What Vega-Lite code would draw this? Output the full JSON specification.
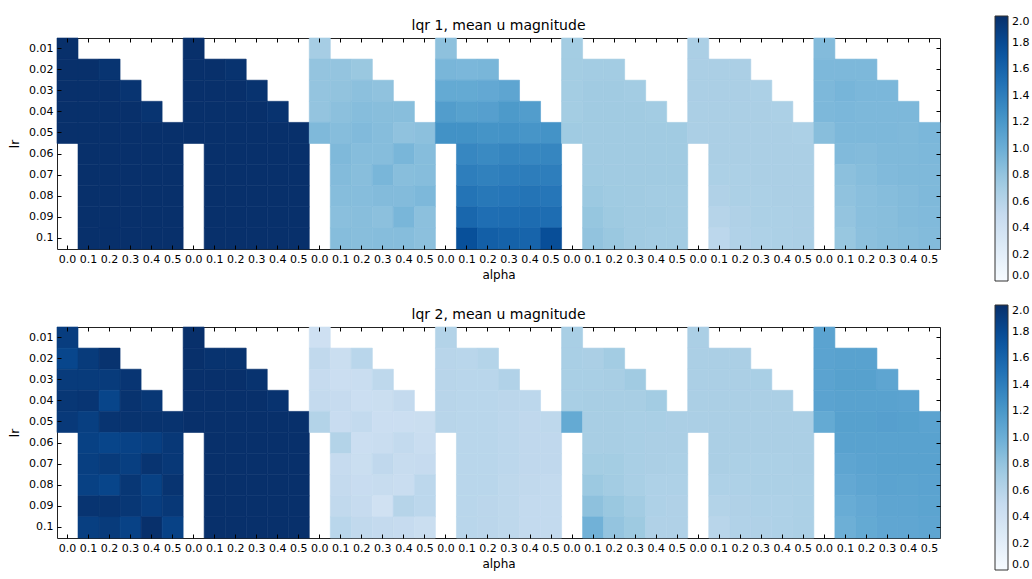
{
"$schema": "https://vega.github.io/schema/vega-lite/v6.json",
"padding": {"left": 8, "top": 15, "right": 5, "bottom": 0},
"background": "white",
"config": {
  "font": "DejaVu Sans",
  "view": {"stroke": "#222", "strokeWidth": 1},
  "axis": {"labelFont": "DejaVu Sans", "labelFontSize": 11, "labelColor": "#000", "titleFont": "DejaVu Sans", "titleFontSize": 12, "titleFontWeight": "normal", "titleColor": "#000", "domain": false, "grid": false, "tickColor": "#000", "tickSize": -4, "labelPadding": 8, "labelOverlap": false},
  "title": {"font": "DejaVu Sans", "fontSize": 14, "fontWeight": "normal", "color": "#000", "frame": "group", "anchor": "middle", "offset": -17},
  "legend": {"labelFont": "DejaVu Sans", "labelFontSize": 11, "labelColor": "#000"}
},
"data": {"values": [
{"p":1,"c":0,"lr":"0.01","v":2},{"p":1,"c":0,"lr":"0.02","v":2},{"p":1,"c":0,"lr":"0.03","v":2},{"p":1,"c":0,"lr":"0.04","v":2},{"p":1,"c":0,"lr":"0.05","v":2},
{"p":1,"c":1,"lr":"0.02","v":2},{"p":1,"c":1,"lr":"0.03","v":2},{"p":1,"c":1,"lr":"0.04","v":2},{"p":1,"c":1,"lr":"0.05","v":2},{"p":1,"c":1,"lr":"0.06","v":2},{"p":1,"c":1,"lr":"0.07","v":2},{"p":1,"c":1,"lr":"0.08","v":2},{"p":1,"c":1,"lr":"0.09","v":2},{"p":1,"c":1,"lr":"0.1","v":2},
{"p":1,"c":2,"lr":"0.02","v":1.97},{"p":1,"c":2,"lr":"0.03","v":2},{"p":1,"c":2,"lr":"0.04","v":2},{"p":1,"c":2,"lr":"0.05","v":2},{"p":1,"c":2,"lr":"0.06","v":2},{"p":1,"c":2,"lr":"0.07","v":2},{"p":1,"c":2,"lr":"0.08","v":2},{"p":1,"c":2,"lr":"0.09","v":2},{"p":1,"c":2,"lr":"0.1","v":2},
{"p":1,"c":3,"lr":"0.03","v":1.97},{"p":1,"c":3,"lr":"0.04","v":2},{"p":1,"c":3,"lr":"0.05","v":2},{"p":1,"c":3,"lr":"0.06","v":2},{"p":1,"c":3,"lr":"0.07","v":2},{"p":1,"c":3,"lr":"0.08","v":2},{"p":1,"c":3,"lr":"0.09","v":2},{"p":1,"c":3,"lr":"0.1","v":2},
{"p":1,"c":4,"lr":"0.04","v":1.97},{"p":1,"c":4,"lr":"0.05","v":2},{"p":1,"c":4,"lr":"0.06","v":2},{"p":1,"c":4,"lr":"0.07","v":2},{"p":1,"c":4,"lr":"0.08","v":2},{"p":1,"c":4,"lr":"0.09","v":2},{"p":1,"c":4,"lr":"0.1","v":2},
{"p":1,"c":5,"lr":"0.05","v":2},{"p":1,"c":5,"lr":"0.06","v":2},{"p":1,"c":5,"lr":"0.07","v":2},{"p":1,"c":5,"lr":"0.08","v":2},{"p":1,"c":5,"lr":"0.09","v":2},{"p":1,"c":5,"lr":"0.1","v":2},
{"p":1,"c":6,"lr":"0.01","v":2},{"p":1,"c":6,"lr":"0.02","v":2},{"p":1,"c":6,"lr":"0.03","v":2},{"p":1,"c":6,"lr":"0.04","v":2},{"p":1,"c":6,"lr":"0.05","v":2},
{"p":1,"c":7,"lr":"0.02","v":2},{"p":1,"c":7,"lr":"0.03","v":2},{"p":1,"c":7,"lr":"0.04","v":2},{"p":1,"c":7,"lr":"0.05","v":2},{"p":1,"c":7,"lr":"0.06","v":2},{"p":1,"c":7,"lr":"0.07","v":2},{"p":1,"c":7,"lr":"0.08","v":2},{"p":1,"c":7,"lr":"0.09","v":2},{"p":1,"c":7,"lr":"0.1","v":2},
{"p":1,"c":8,"lr":"0.02","v":1.98},{"p":1,"c":8,"lr":"0.03","v":2},{"p":1,"c":8,"lr":"0.04","v":2},{"p":1,"c":8,"lr":"0.05","v":2},{"p":1,"c":8,"lr":"0.06","v":2},{"p":1,"c":8,"lr":"0.07","v":2},{"p":1,"c":8,"lr":"0.08","v":2},{"p":1,"c":8,"lr":"0.09","v":2},{"p":1,"c":8,"lr":"0.1","v":2},
{"p":1,"c":9,"lr":"0.03","v":1.98},{"p":1,"c":9,"lr":"0.04","v":2},{"p":1,"c":9,"lr":"0.05","v":2},{"p":1,"c":9,"lr":"0.06","v":2},{"p":1,"c":9,"lr":"0.07","v":2},{"p":1,"c":9,"lr":"0.08","v":2},{"p":1,"c":9,"lr":"0.09","v":2},{"p":1,"c":9,"lr":"0.1","v":2},
{"p":1,"c":10,"lr":"0.04","v":1.98},{"p":1,"c":10,"lr":"0.05","v":2},{"p":1,"c":10,"lr":"0.06","v":2},{"p":1,"c":10,"lr":"0.07","v":2},{"p":1,"c":10,"lr":"0.08","v":2},{"p":1,"c":10,"lr":"0.09","v":2},{"p":1,"c":10,"lr":"0.1","v":2},
{"p":1,"c":11,"lr":"0.05","v":2},{"p":1,"c":11,"lr":"0.06","v":2},{"p":1,"c":11,"lr":"0.07","v":2},{"p":1,"c":11,"lr":"0.08","v":2},{"p":1,"c":11,"lr":"0.09","v":2},{"p":1,"c":11,"lr":"0.1","v":2},
{"p":1,"c":12,"lr":"0.01","v":0.70},{"p":1,"c":12,"lr":"0.02","v":0.80},{"p":1,"c":12,"lr":"0.03","v":0.80},{"p":1,"c":12,"lr":"0.04","v":0.80},{"p":1,"c":12,"lr":"0.05","v":0.90},
{"p":1,"c":13,"lr":"0.02","v":0.80},{"p":1,"c":13,"lr":"0.03","v":0.81},{"p":1,"c":13,"lr":"0.04","v":0.84},{"p":1,"c":13,"lr":"0.05","v":0.87},{"p":1,"c":13,"lr":"0.06","v":0.90},{"p":1,"c":13,"lr":"0.07","v":0.88},{"p":1,"c":13,"lr":"0.08","v":0.87},{"p":1,"c":13,"lr":"0.09","v":0.85},{"p":1,"c":13,"lr":"0.1","v":0.87},
{"p":1,"c":14,"lr":"0.02","v":0.77},{"p":1,"c":14,"lr":"0.03","v":0.84},{"p":1,"c":14,"lr":"0.04","v":0.87},{"p":1,"c":14,"lr":"0.05","v":0.89},{"p":1,"c":14,"lr":"0.06","v":0.87},{"p":1,"c":14,"lr":"0.07","v":0.86},{"p":1,"c":14,"lr":"0.08","v":0.87},{"p":1,"c":14,"lr":"0.09","v":0.86},{"p":1,"c":14,"lr":"0.1","v":0.86},
{"p":1,"c":15,"lr":"0.03","v":0.82},{"p":1,"c":15,"lr":"0.04","v":0.86},{"p":1,"c":15,"lr":"0.05","v":0.87},{"p":1,"c":15,"lr":"0.06","v":0.87},{"p":1,"c":15,"lr":"0.07","v":0.93},{"p":1,"c":15,"lr":"0.08","v":0.88},{"p":1,"c":15,"lr":"0.09","v":0.84},{"p":1,"c":15,"lr":"0.1","v":0.87},
{"p":1,"c":16,"lr":"0.04","v":0.86},{"p":1,"c":16,"lr":"0.05","v":0.82},{"p":1,"c":16,"lr":"0.06","v":0.93},{"p":1,"c":16,"lr":"0.07","v":0.86},{"p":1,"c":16,"lr":"0.08","v":0.88},{"p":1,"c":16,"lr":"0.09","v":0.93},{"p":1,"c":16,"lr":"0.1","v":0.87},
{"p":1,"c":17,"lr":"0.05","v":0.84},{"p":1,"c":17,"lr":"0.06","v":0.87},{"p":1,"c":17,"lr":"0.07","v":0.87},{"p":1,"c":17,"lr":"0.08","v":0.91},{"p":1,"c":17,"lr":"0.09","v":0.84},{"p":1,"c":17,"lr":"0.1","v":0.84},
{"p":1,"c":18,"lr":"0.01","v":0.83},{"p":1,"c":18,"lr":"0.02","v":0.93},{"p":1,"c":18,"lr":"0.03","v":1.04},{"p":1,"c":18,"lr":"0.04","v":1.15},{"p":1,"c":18,"lr":"0.05","v":1.25},
{"p":1,"c":19,"lr":"0.02","v":0.92},{"p":1,"c":19,"lr":"0.03","v":1.04},{"p":1,"c":19,"lr":"0.04","v":1.12},{"p":1,"c":19,"lr":"0.05","v":1.25},{"p":1,"c":19,"lr":"0.06","v":1.33},{"p":1,"c":19,"lr":"0.07","v":1.40},{"p":1,"c":19,"lr":"0.08","v":1.48},{"p":1,"c":19,"lr":"0.09","v":1.58},{"p":1,"c":19,"lr":"0.1","v":1.76},
{"p":1,"c":20,"lr":"0.02","v":0.93},{"p":1,"c":20,"lr":"0.03","v":1.05},{"p":1,"c":20,"lr":"0.04","v":1.13},{"p":1,"c":20,"lr":"0.05","v":1.23},{"p":1,"c":20,"lr":"0.06","v":1.31},{"p":1,"c":20,"lr":"0.07","v":1.38},{"p":1,"c":20,"lr":"0.08","v":1.45},{"p":1,"c":20,"lr":"0.09","v":1.52},{"p":1,"c":20,"lr":"0.1","v":1.64},
{"p":1,"c":21,"lr":"0.03","v":1.08},{"p":1,"c":21,"lr":"0.04","v":1.18},{"p":1,"c":21,"lr":"0.05","v":1.24},{"p":1,"c":21,"lr":"0.06","v":1.34},{"p":1,"c":21,"lr":"0.07","v":1.40},{"p":1,"c":21,"lr":"0.08","v":1.46},{"p":1,"c":21,"lr":"0.09","v":1.53},{"p":1,"c":21,"lr":"0.1","v":1.62},
{"p":1,"c":22,"lr":"0.04","v":1.15},{"p":1,"c":22,"lr":"0.05","v":1.22},{"p":1,"c":22,"lr":"0.06","v":1.33},{"p":1,"c":22,"lr":"0.07","v":1.41},{"p":1,"c":22,"lr":"0.08","v":1.48},{"p":1,"c":22,"lr":"0.09","v":1.54},{"p":1,"c":22,"lr":"0.1","v":1.60},
{"p":1,"c":23,"lr":"0.05","v":1.24},{"p":1,"c":23,"lr":"0.06","v":1.34},{"p":1,"c":23,"lr":"0.07","v":1.40},{"p":1,"c":23,"lr":"0.08","v":1.46},{"p":1,"c":23,"lr":"0.09","v":1.53},{"p":1,"c":23,"lr":"0.1","v":1.77},
{"p":1,"c":24,"lr":"0.01","v":0.71},{"p":1,"c":24,"lr":"0.02","v":0.71},{"p":1,"c":24,"lr":"0.03","v":0.71},{"p":1,"c":24,"lr":"0.04","v":0.71},{"p":1,"c":24,"lr":"0.05","v":0.74},
{"p":1,"c":25,"lr":"0.02","v":0.72},{"p":1,"c":25,"lr":"0.03","v":0.73},{"p":1,"c":25,"lr":"0.04","v":0.73},{"p":1,"c":25,"lr":"0.05","v":0.73},{"p":1,"c":25,"lr":"0.06","v":0.73},{"p":1,"c":25,"lr":"0.07","v":0.74},{"p":1,"c":25,"lr":"0.08","v":0.76},{"p":1,"c":25,"lr":"0.09","v":0.79},{"p":1,"c":25,"lr":"0.1","v":0.81},
{"p":1,"c":26,"lr":"0.02","v":0.72},{"p":1,"c":26,"lr":"0.03","v":0.73},{"p":1,"c":26,"lr":"0.04","v":0.73},{"p":1,"c":26,"lr":"0.05","v":0.73},{"p":1,"c":26,"lr":"0.06","v":0.73},{"p":1,"c":26,"lr":"0.07","v":0.73},{"p":1,"c":26,"lr":"0.08","v":0.74},{"p":1,"c":26,"lr":"0.09","v":0.75},{"p":1,"c":26,"lr":"0.1","v":0.77},
{"p":1,"c":27,"lr":"0.03","v":0.72},{"p":1,"c":27,"lr":"0.04","v":0.73},{"p":1,"c":27,"lr":"0.05","v":0.73},{"p":1,"c":27,"lr":"0.06","v":0.73},{"p":1,"c":27,"lr":"0.07","v":0.73},{"p":1,"c":27,"lr":"0.08","v":0.73},{"p":1,"c":27,"lr":"0.09","v":0.73},{"p":1,"c":27,"lr":"0.1","v":0.73},
{"p":1,"c":28,"lr":"0.04","v":0.72},{"p":1,"c":28,"lr":"0.05","v":0.73},{"p":1,"c":28,"lr":"0.06","v":0.73},{"p":1,"c":28,"lr":"0.07","v":0.73},{"p":1,"c":28,"lr":"0.08","v":0.72},{"p":1,"c":28,"lr":"0.09","v":0.73},{"p":1,"c":28,"lr":"0.1","v":0.72},
{"p":1,"c":29,"lr":"0.05","v":0.73},{"p":1,"c":29,"lr":"0.06","v":0.73},{"p":1,"c":29,"lr":"0.07","v":0.73},{"p":1,"c":29,"lr":"0.08","v":0.72},{"p":1,"c":29,"lr":"0.09","v":0.72},{"p":1,"c":29,"lr":"0.1","v":0.72},
{"p":1,"c":30,"lr":"0.01","v":0.67},{"p":1,"c":30,"lr":"0.02","v":0.67},{"p":1,"c":30,"lr":"0.03","v":0.67},{"p":1,"c":30,"lr":"0.04","v":0.67},{"p":1,"c":30,"lr":"0.05","v":0.67},
{"p":1,"c":31,"lr":"0.02","v":0.67},{"p":1,"c":31,"lr":"0.03","v":0.67},{"p":1,"c":31,"lr":"0.04","v":0.67},{"p":1,"c":31,"lr":"0.05","v":0.67},{"p":1,"c":31,"lr":"0.06","v":0.67},{"p":1,"c":31,"lr":"0.07","v":0.66},{"p":1,"c":31,"lr":"0.08","v":0.64},{"p":1,"c":31,"lr":"0.09","v":0.60},{"p":1,"c":31,"lr":"0.1","v":0.56},
{"p":1,"c":32,"lr":"0.02","v":0.67},{"p":1,"c":32,"lr":"0.03","v":0.67},{"p":1,"c":32,"lr":"0.04","v":0.67},{"p":1,"c":32,"lr":"0.05","v":0.67},{"p":1,"c":32,"lr":"0.06","v":0.67},{"p":1,"c":32,"lr":"0.07","v":0.66},{"p":1,"c":32,"lr":"0.08","v":0.66},{"p":1,"c":32,"lr":"0.09","v":0.64},{"p":1,"c":32,"lr":"0.1","v":0.63},
{"p":1,"c":33,"lr":"0.03","v":0.66},{"p":1,"c":33,"lr":"0.04","v":0.67},{"p":1,"c":33,"lr":"0.05","v":0.67},{"p":1,"c":33,"lr":"0.06","v":0.67},{"p":1,"c":33,"lr":"0.07","v":0.67},{"p":1,"c":33,"lr":"0.08","v":0.66},{"p":1,"c":33,"lr":"0.09","v":0.66},{"p":1,"c":33,"lr":"0.1","v":0.65},
{"p":1,"c":34,"lr":"0.04","v":0.66},{"p":1,"c":34,"lr":"0.05","v":0.67},{"p":1,"c":34,"lr":"0.06","v":0.67},{"p":1,"c":34,"lr":"0.07","v":0.67},{"p":1,"c":34,"lr":"0.08","v":0.67},{"p":1,"c":34,"lr":"0.09","v":0.66},{"p":1,"c":34,"lr":"0.1","v":0.66},
{"p":1,"c":35,"lr":"0.05","v":0.66},{"p":1,"c":35,"lr":"0.06","v":0.67},{"p":1,"c":35,"lr":"0.07","v":0.67},{"p":1,"c":35,"lr":"0.08","v":0.67},{"p":1,"c":35,"lr":"0.09","v":0.67},{"p":1,"c":35,"lr":"0.1","v":0.67},
{"p":1,"c":36,"lr":"0.01","v":0.88},{"p":1,"c":36,"lr":"0.02","v":0.91},{"p":1,"c":36,"lr":"0.03","v":0.91},{"p":1,"c":36,"lr":"0.04","v":0.91},{"p":1,"c":36,"lr":"0.05","v":0.86},
{"p":1,"c":37,"lr":"0.02","v":0.91},{"p":1,"c":37,"lr":"0.03","v":0.94},{"p":1,"c":37,"lr":"0.04","v":0.92},{"p":1,"c":37,"lr":"0.05","v":0.91},{"p":1,"c":37,"lr":"0.06","v":0.89},{"p":1,"c":37,"lr":"0.07","v":0.84},{"p":1,"c":37,"lr":"0.08","v":0.82},{"p":1,"c":37,"lr":"0.09","v":0.80},{"p":1,"c":37,"lr":"0.1","v":0.78},
{"p":1,"c":38,"lr":"0.02","v":0.91},{"p":1,"c":38,"lr":"0.03","v":0.92},{"p":1,"c":38,"lr":"0.04","v":0.91},{"p":1,"c":38,"lr":"0.05","v":0.91},{"p":1,"c":38,"lr":"0.06","v":0.88},{"p":1,"c":38,"lr":"0.07","v":0.87},{"p":1,"c":38,"lr":"0.08","v":0.85},{"p":1,"c":38,"lr":"0.09","v":0.85},{"p":1,"c":38,"lr":"0.1","v":0.84},
{"p":1,"c":39,"lr":"0.03","v":0.92},{"p":1,"c":39,"lr":"0.04","v":0.91},{"p":1,"c":39,"lr":"0.05","v":0.91},{"p":1,"c":39,"lr":"0.06","v":0.90},{"p":1,"c":39,"lr":"0.07","v":0.89},{"p":1,"c":39,"lr":"0.08","v":0.87},{"p":1,"c":39,"lr":"0.09","v":0.86},{"p":1,"c":39,"lr":"0.1","v":0.86},
{"p":1,"c":40,"lr":"0.04","v":0.91},{"p":1,"c":40,"lr":"0.05","v":0.90},{"p":1,"c":40,"lr":"0.06","v":0.90},{"p":1,"c":40,"lr":"0.07","v":0.90},{"p":1,"c":40,"lr":"0.08","v":0.88},{"p":1,"c":40,"lr":"0.09","v":0.88},{"p":1,"c":40,"lr":"0.1","v":0.87},
{"p":1,"c":41,"lr":"0.05","v":0.92},{"p":1,"c":41,"lr":"0.06","v":0.91},{"p":1,"c":41,"lr":"0.07","v":0.90},{"p":1,"c":41,"lr":"0.08","v":0.90},{"p":1,"c":41,"lr":"0.09","v":0.89},{"p":1,"c":41,"lr":"0.1","v":0.88},
{"p":2,"c":0,"lr":"0.01","v":1.90},{"p":2,"c":0,"lr":"0.02","v":1.83},{"p":2,"c":0,"lr":"0.03","v":1.92},{"p":2,"c":0,"lr":"0.04","v":1.95},{"p":2,"c":0,"lr":"0.05","v":1.93},
{"p":2,"c":1,"lr":"0.02","v":1.92},{"p":2,"c":1,"lr":"0.03","v":1.92},{"p":2,"c":1,"lr":"0.04","v":1.96},{"p":2,"c":1,"lr":"0.05","v":1.89},{"p":2,"c":1,"lr":"0.06","v":1.87},{"p":2,"c":1,"lr":"0.07","v":1.89},{"p":2,"c":1,"lr":"0.08","v":1.87},{"p":2,"c":1,"lr":"0.09","v":1.97},{"p":2,"c":1,"lr":"0.1","v":1.89},
{"p":2,"c":2,"lr":"0.02","v":1.98},{"p":2,"c":2,"lr":"0.03","v":1.92},{"p":2,"c":2,"lr":"0.04","v":1.84},{"p":2,"c":2,"lr":"0.05","v":1.97},{"p":2,"c":2,"lr":"0.06","v":1.84},{"p":2,"c":2,"lr":"0.07","v":1.92},{"p":2,"c":2,"lr":"0.08","v":1.84},{"p":2,"c":2,"lr":"0.09","v":1.97},{"p":2,"c":2,"lr":"0.1","v":1.92},
{"p":2,"c":3,"lr":"0.03","v":1.96},{"p":2,"c":3,"lr":"0.04","v":1.98},{"p":2,"c":3,"lr":"0.05","v":1.98},{"p":2,"c":3,"lr":"0.06","v":1.86},{"p":2,"c":3,"lr":"0.07","v":1.89},{"p":2,"c":3,"lr":"0.08","v":1.95},{"p":2,"c":3,"lr":"0.09","v":1.95},{"p":2,"c":3,"lr":"0.1","v":1.86},
{"p":2,"c":4,"lr":"0.04","v":1.95},{"p":2,"c":4,"lr":"0.05","v":1.98},{"p":2,"c":4,"lr":"0.06","v":1.89},{"p":2,"c":4,"lr":"0.07","v":1.97},{"p":2,"c":4,"lr":"0.08","v":1.87},{"p":2,"c":4,"lr":"0.09","v":1.90},{"p":2,"c":4,"lr":"0.1","v":2.0},
{"p":2,"c":5,"lr":"0.05","v":1.98},{"p":2,"c":5,"lr":"0.06","v":1.94},{"p":2,"c":5,"lr":"0.07","v":1.94},{"p":2,"c":5,"lr":"0.08","v":1.97},{"p":2,"c":5,"lr":"0.09","v":1.94},{"p":2,"c":5,"lr":"0.1","v":1.86},
{"p":2,"c":6,"lr":"0.01","v":2},{"p":2,"c":6,"lr":"0.02","v":2},{"p":2,"c":6,"lr":"0.03","v":2},{"p":2,"c":6,"lr":"0.04","v":2},{"p":2,"c":6,"lr":"0.05","v":2},
{"p":2,"c":7,"lr":"0.02","v":1.98},{"p":2,"c":7,"lr":"0.03","v":2},{"p":2,"c":7,"lr":"0.04","v":2},{"p":2,"c":7,"lr":"0.05","v":2},{"p":2,"c":7,"lr":"0.06","v":2},{"p":2,"c":7,"lr":"0.07","v":2},{"p":2,"c":7,"lr":"0.08","v":2},{"p":2,"c":7,"lr":"0.09","v":2},{"p":2,"c":7,"lr":"0.1","v":2},
{"p":2,"c":8,"lr":"0.02","v":1.98},{"p":2,"c":8,"lr":"0.03","v":2},{"p":2,"c":8,"lr":"0.04","v":2},{"p":2,"c":8,"lr":"0.05","v":2},{"p":2,"c":8,"lr":"0.06","v":2},{"p":2,"c":8,"lr":"0.07","v":2},{"p":2,"c":8,"lr":"0.08","v":2},{"p":2,"c":8,"lr":"0.09","v":2},{"p":2,"c":8,"lr":"0.1","v":2},
{"p":2,"c":9,"lr":"0.03","v":1.98},{"p":2,"c":9,"lr":"0.04","v":2},{"p":2,"c":9,"lr":"0.05","v":2},{"p":2,"c":9,"lr":"0.06","v":2},{"p":2,"c":9,"lr":"0.07","v":2},{"p":2,"c":9,"lr":"0.08","v":2},{"p":2,"c":9,"lr":"0.09","v":2},{"p":2,"c":9,"lr":"0.1","v":2},
{"p":2,"c":10,"lr":"0.04","v":1.98},{"p":2,"c":10,"lr":"0.05","v":2},{"p":2,"c":10,"lr":"0.06","v":2},{"p":2,"c":10,"lr":"0.07","v":2},{"p":2,"c":10,"lr":"0.08","v":2},{"p":2,"c":10,"lr":"0.09","v":2},{"p":2,"c":10,"lr":"0.1","v":2},
{"p":2,"c":11,"lr":"0.05","v":2},{"p":2,"c":11,"lr":"0.06","v":2},{"p":2,"c":11,"lr":"0.07","v":2},{"p":2,"c":11,"lr":"0.08","v":2},{"p":2,"c":11,"lr":"0.09","v":2},{"p":2,"c":11,"lr":"0.1","v":2},
{"p":2,"c":12,"lr":"0.01","v":0.42},{"p":2,"c":12,"lr":"0.02","v":0.53},{"p":2,"c":12,"lr":"0.03","v":0.50},{"p":2,"c":12,"lr":"0.04","v":0.51},{"p":2,"c":12,"lr":"0.05","v":0.62},
{"p":2,"c":13,"lr":"0.02","v":0.46},{"p":2,"c":13,"lr":"0.03","v":0.45},{"p":2,"c":13,"lr":"0.04","v":0.50},{"p":2,"c":13,"lr":"0.05","v":0.48},{"p":2,"c":13,"lr":"0.06","v":0.62},{"p":2,"c":13,"lr":"0.07","v":0.50},{"p":2,"c":13,"lr":"0.08","v":0.51},{"p":2,"c":13,"lr":"0.09","v":0.53},{"p":2,"c":13,"lr":"0.1","v":0.58},
{"p":2,"c":14,"lr":"0.02","v":0.58},{"p":2,"c":14,"lr":"0.03","v":0.47},{"p":2,"c":14,"lr":"0.04","v":0.45},{"p":2,"c":14,"lr":"0.05","v":0.52},{"p":2,"c":14,"lr":"0.06","v":0.45},{"p":2,"c":14,"lr":"0.07","v":0.46},{"p":2,"c":14,"lr":"0.08","v":0.48},{"p":2,"c":14,"lr":"0.09","v":0.50},{"p":2,"c":14,"lr":"0.1","v":0.53},
{"p":2,"c":15,"lr":"0.03","v":0.55},{"p":2,"c":15,"lr":"0.04","v":0.46},{"p":2,"c":15,"lr":"0.05","v":0.45},{"p":2,"c":15,"lr":"0.06","v":0.47},{"p":2,"c":15,"lr":"0.07","v":0.54},{"p":2,"c":15,"lr":"0.08","v":0.49},{"p":2,"c":15,"lr":"0.09","v":0.40},{"p":2,"c":15,"lr":"0.1","v":0.51},
{"p":2,"c":16,"lr":"0.04","v":0.51},{"p":2,"c":16,"lr":"0.05","v":0.45},{"p":2,"c":16,"lr":"0.06","v":0.52},{"p":2,"c":16,"lr":"0.07","v":0.49},{"p":2,"c":16,"lr":"0.08","v":0.47},{"p":2,"c":16,"lr":"0.09","v":0.60},{"p":2,"c":16,"lr":"0.1","v":0.50},
{"p":2,"c":17,"lr":"0.05","v":0.46},{"p":2,"c":17,"lr":"0.06","v":0.47},{"p":2,"c":17,"lr":"0.07","v":0.50},{"p":2,"c":17,"lr":"0.08","v":0.56},{"p":2,"c":17,"lr":"0.09","v":0.56},{"p":2,"c":17,"lr":"0.1","v":0.46},
{"p":2,"c":18,"lr":"0.01","v":0.62},{"p":2,"c":18,"lr":"0.02","v":0.59},{"p":2,"c":18,"lr":"0.03","v":0.59},{"p":2,"c":18,"lr":"0.04","v":0.59},{"p":2,"c":18,"lr":"0.05","v":0.59},
{"p":2,"c":19,"lr":"0.02","v":0.58},{"p":2,"c":19,"lr":"0.03","v":0.58},{"p":2,"c":19,"lr":"0.04","v":0.58},{"p":2,"c":19,"lr":"0.05","v":0.58},{"p":2,"c":19,"lr":"0.06","v":0.58},{"p":2,"c":19,"lr":"0.07","v":0.58},{"p":2,"c":19,"lr":"0.08","v":0.58},{"p":2,"c":19,"lr":"0.09","v":0.58},{"p":2,"c":19,"lr":"0.1","v":0.58},
{"p":2,"c":20,"lr":"0.02","v":0.61},{"p":2,"c":20,"lr":"0.03","v":0.58},{"p":2,"c":20,"lr":"0.04","v":0.58},{"p":2,"c":20,"lr":"0.05","v":0.58},{"p":2,"c":20,"lr":"0.06","v":0.58},{"p":2,"c":20,"lr":"0.07","v":0.58},{"p":2,"c":20,"lr":"0.08","v":0.58},{"p":2,"c":20,"lr":"0.09","v":0.57},{"p":2,"c":20,"lr":"0.1","v":0.57},
{"p":2,"c":21,"lr":"0.03","v":0.63},{"p":2,"c":21,"lr":"0.04","v":0.57},{"p":2,"c":21,"lr":"0.05","v":0.56},{"p":2,"c":21,"lr":"0.06","v":0.56},{"p":2,"c":21,"lr":"0.07","v":0.56},{"p":2,"c":21,"lr":"0.08","v":0.55},{"p":2,"c":21,"lr":"0.09","v":0.55},{"p":2,"c":21,"lr":"0.1","v":0.55},
{"p":2,"c":22,"lr":"0.04","v":0.56},{"p":2,"c":22,"lr":"0.05","v":0.54},{"p":2,"c":22,"lr":"0.06","v":0.54},{"p":2,"c":22,"lr":"0.07","v":0.54},{"p":2,"c":22,"lr":"0.08","v":0.53},{"p":2,"c":22,"lr":"0.09","v":0.52},{"p":2,"c":22,"lr":"0.1","v":0.52},
{"p":2,"c":23,"lr":"0.05","v":0.55},{"p":2,"c":23,"lr":"0.06","v":0.54},{"p":2,"c":23,"lr":"0.07","v":0.54},{"p":2,"c":23,"lr":"0.08","v":0.52},{"p":2,"c":23,"lr":"0.09","v":0.52},{"p":2,"c":23,"lr":"0.1","v":0.52},
{"p":2,"c":24,"lr":"0.01","v":0.68},{"p":2,"c":24,"lr":"0.02","v":0.68},{"p":2,"c":24,"lr":"0.03","v":0.68},{"p":2,"c":24,"lr":"0.04","v":0.68},{"p":2,"c":24,"lr":"0.05","v":1.04},
{"p":2,"c":25,"lr":"0.02","v":0.67},{"p":2,"c":25,"lr":"0.03","v":0.68},{"p":2,"c":25,"lr":"0.04","v":0.69},{"p":2,"c":25,"lr":"0.05","v":0.69},{"p":2,"c":25,"lr":"0.06","v":0.69},{"p":2,"c":25,"lr":"0.07","v":0.71},{"p":2,"c":25,"lr":"0.08","v":0.76},{"p":2,"c":25,"lr":"0.09","v":0.83},{"p":2,"c":25,"lr":"0.1","v":0.97},
{"p":2,"c":26,"lr":"0.02","v":0.72},{"p":2,"c":26,"lr":"0.03","v":0.69},{"p":2,"c":26,"lr":"0.04","v":0.69},{"p":2,"c":26,"lr":"0.05","v":0.69},{"p":2,"c":26,"lr":"0.06","v":0.69},{"p":2,"c":26,"lr":"0.07","v":0.71},{"p":2,"c":26,"lr":"0.08","v":0.72},{"p":2,"c":26,"lr":"0.09","v":0.77},{"p":2,"c":26,"lr":"0.1","v":0.80},
{"p":2,"c":27,"lr":"0.03","v":0.73},{"p":2,"c":27,"lr":"0.04","v":0.69},{"p":2,"c":27,"lr":"0.05","v":0.68},{"p":2,"c":27,"lr":"0.06","v":0.68},{"p":2,"c":27,"lr":"0.07","v":0.68},{"p":2,"c":27,"lr":"0.08","v":0.68},{"p":2,"c":27,"lr":"0.09","v":0.72},{"p":2,"c":27,"lr":"0.1","v":0.75},
{"p":2,"c":28,"lr":"0.04","v":0.72},{"p":2,"c":28,"lr":"0.05","v":0.68},{"p":2,"c":28,"lr":"0.06","v":0.67},{"p":2,"c":28,"lr":"0.07","v":0.67},{"p":2,"c":28,"lr":"0.08","v":0.65},{"p":2,"c":28,"lr":"0.09","v":0.65},{"p":2,"c":28,"lr":"0.1","v":0.64},
{"p":2,"c":29,"lr":"0.05","v":0.67},{"p":2,"c":29,"lr":"0.06","v":0.67},{"p":2,"c":29,"lr":"0.07","v":0.66},{"p":2,"c":29,"lr":"0.08","v":0.65},{"p":2,"c":29,"lr":"0.09","v":0.64},{"p":2,"c":29,"lr":"0.1","v":0.64},
{"p":2,"c":30,"lr":"0.01","v":0.67},{"p":2,"c":30,"lr":"0.02","v":0.67},{"p":2,"c":30,"lr":"0.03","v":0.67},{"p":2,"c":30,"lr":"0.04","v":0.67},{"p":2,"c":30,"lr":"0.05","v":0.67},
{"p":2,"c":31,"lr":"0.02","v":0.67},{"p":2,"c":31,"lr":"0.03","v":0.67},{"p":2,"c":31,"lr":"0.04","v":0.67},{"p":2,"c":31,"lr":"0.05","v":0.67},{"p":2,"c":31,"lr":"0.06","v":0.67},{"p":2,"c":31,"lr":"0.07","v":0.67},{"p":2,"c":31,"lr":"0.08","v":0.65},{"p":2,"c":31,"lr":"0.09","v":0.62},{"p":2,"c":31,"lr":"0.1","v":0.59},
{"p":2,"c":32,"lr":"0.02","v":0.67},{"p":2,"c":32,"lr":"0.03","v":0.67},{"p":2,"c":32,"lr":"0.04","v":0.67},{"p":2,"c":32,"lr":"0.05","v":0.67},{"p":2,"c":32,"lr":"0.06","v":0.67},{"p":2,"c":32,"lr":"0.07","v":0.66},{"p":2,"c":32,"lr":"0.08","v":0.65},{"p":2,"c":32,"lr":"0.09","v":0.64},{"p":2,"c":32,"lr":"0.1","v":0.63},
{"p":2,"c":33,"lr":"0.03","v":0.68},{"p":2,"c":33,"lr":"0.04","v":0.67},{"p":2,"c":33,"lr":"0.05","v":0.67},{"p":2,"c":33,"lr":"0.06","v":0.67},{"p":2,"c":33,"lr":"0.07","v":0.66},{"p":2,"c":33,"lr":"0.08","v":0.66},{"p":2,"c":33,"lr":"0.09","v":0.65},{"p":2,"c":33,"lr":"0.1","v":0.64},
{"p":2,"c":34,"lr":"0.04","v":0.67},{"p":2,"c":34,"lr":"0.05","v":0.67},{"p":2,"c":34,"lr":"0.06","v":0.67},{"p":2,"c":34,"lr":"0.07","v":0.66},{"p":2,"c":34,"lr":"0.08","v":0.66},{"p":2,"c":34,"lr":"0.09","v":0.65},{"p":2,"c":34,"lr":"0.1","v":0.65},
{"p":2,"c":35,"lr":"0.05","v":0.67},{"p":2,"c":35,"lr":"0.06","v":0.67},{"p":2,"c":35,"lr":"0.07","v":0.67},{"p":2,"c":35,"lr":"0.08","v":0.66},{"p":2,"c":35,"lr":"0.09","v":0.66},{"p":2,"c":35,"lr":"0.1","v":0.66},
{"p":2,"c":36,"lr":"0.01","v":1.10},{"p":2,"c":36,"lr":"0.02","v":1.10},{"p":2,"c":36,"lr":"0.03","v":1.10},{"p":2,"c":36,"lr":"0.04","v":1.10},{"p":2,"c":36,"lr":"0.05","v":1.04},
{"p":2,"c":37,"lr":"0.02","v":1.11},{"p":2,"c":37,"lr":"0.03","v":1.12},{"p":2,"c":37,"lr":"0.04","v":1.11},{"p":2,"c":37,"lr":"0.05","v":1.12},{"p":2,"c":37,"lr":"0.06","v":1.11},{"p":2,"c":37,"lr":"0.07","v":1.08},{"p":2,"c":37,"lr":"0.08","v":1.05},{"p":2,"c":37,"lr":"0.09","v":1.02},{"p":2,"c":37,"lr":"0.1","v":0.99},
{"p":2,"c":38,"lr":"0.02","v":1.11},{"p":2,"c":38,"lr":"0.03","v":1.12},{"p":2,"c":38,"lr":"0.04","v":1.11},{"p":2,"c":38,"lr":"0.05","v":1.12},{"p":2,"c":38,"lr":"0.06","v":1.11},{"p":2,"c":38,"lr":"0.07","v":1.10},{"p":2,"c":38,"lr":"0.08","v":1.08},{"p":2,"c":38,"lr":"0.09","v":1.05},{"p":2,"c":38,"lr":"0.1","v":1.04},
{"p":2,"c":39,"lr":"0.03","v":1.08},{"p":2,"c":39,"lr":"0.04","v":1.11},{"p":2,"c":39,"lr":"0.05","v":1.13},{"p":2,"c":39,"lr":"0.06","v":1.11},{"p":2,"c":39,"lr":"0.07","v":1.11},{"p":2,"c":39,"lr":"0.08","v":1.10},{"p":2,"c":39,"lr":"0.09","v":1.08},{"p":2,"c":39,"lr":"0.1","v":1.07},
{"p":2,"c":40,"lr":"0.04","v":1.10},{"p":2,"c":40,"lr":"0.05","v":1.12},{"p":2,"c":40,"lr":"0.06","v":1.11},{"p":2,"c":40,"lr":"0.07","v":1.11},{"p":2,"c":40,"lr":"0.08","v":1.09},{"p":2,"c":40,"lr":"0.09","v":1.08},{"p":2,"c":40,"lr":"0.1","v":1.07},
{"p":2,"c":41,"lr":"0.05","v":1.10},{"p":2,"c":41,"lr":"0.06","v":1.11},{"p":2,"c":41,"lr":"0.07","v":1.11},{"p":2,"c":41,"lr":"0.08","v":1.10},{"p":2,"c":41,"lr":"0.09","v":1.09},{"p":2,"c":41,"lr":"0.1","v":1.08}
]},
"spacing": 21,
"resolve": {"scale": {"color": "independent"}},
"vconcat": [
{
  "title": {"text": "lqr 1, mean u magnitude"},
  "width": 883, "height": 211,
  "transform": [{"filter": "datum.p == 1"}],
  "layer": [
    {
      "mark": {"type": "rect", "strokeWidth": 0.6},
      "encoding": {
        "x": {"field": "c", "type": "ordinal", "scale": {"domain": [0,1,2,3,4,5,6,7,8,9,10,11,12,13,14,15,16,17,18,19,20,21,22,23,24,25,26,27,28,29,30,31,32,33,34,35,36,37,38,39,40,41], "paddingInner": 0, "paddingOuter": 0}, "axis": {"title": "alpha", "labelAngle": 0, "labelExpr": "format((datum.value % 6) / 10, '.1f')", "titlePadding": 5}},
        "y": {"field": "lr", "type": "ordinal", "scale": {"domain": ["0.01","0.02","0.03","0.04","0.05","0.06","0.07","0.08","0.09","0.1"], "paddingInner": 0, "paddingOuter": 0}, "axis": {"title": "lr", "titlePadding": 7}},
        "color": {"field": "v", "type": "quantitative", "scale": {"domain": [0,0.25,0.5,0.75,1,1.25,1.5,1.75,2], "range": ["#f7fbff","#deebf7","#c6dbef","#9ecae1","#6baed6","#4292c6","#2171b5","#08519c","#08306b"], "interpolate": "rgb", "clamp": true}, "legend": {"title": null, "orient": "none", "legendX": 938, "legendY": -22, "direction": "vertical", "gradientLength": 265, "gradientThickness": 13, "gradientStrokeColor": "#333", "gradientStrokeWidth": 1, "values": [0,0.2,0.4,0.6,0.8,1,1.2,1.4,1.6,1.8,2], "format": ".1f", "labelOffset": 4}},
        "stroke": {"field": "v", "type": "quantitative", "scale": {"domain": [0,0.25,0.5,0.75,1,1.25,1.5,1.75,2], "range": ["#f7fbff","#deebf7","#c6dbef","#9ecae1","#6baed6","#4292c6","#2171b5","#08519c","#08306b"], "interpolate": "rgb", "clamp": true}, "legend": null}
      }
    },
    {
      "mark": {"type": "rect", "opacity": 0},
      "encoding": {
        "x": {"field": "c", "type": "ordinal", "axis": {"orient": "top", "labels": false, "title": null}},
        "y": {"field": "lr", "type": "ordinal", "axis": {"orient": "right", "labels": false, "title": null}}
      }
    }
  ],
  "resolve": {"axis": {"x": "independent", "y": "independent"}}
},
{
  "title": {"text": "lqr 2, mean u magnitude"},
  "width": 883, "height": 211,
  "transform": [{"filter": "datum.p == 2"}],
  "layer": [
    {
      "mark": {"type": "rect", "strokeWidth": 0.6},
      "encoding": {
        "x": {"field": "c", "type": "ordinal", "scale": {"domain": [0,1,2,3,4,5,6,7,8,9,10,11,12,13,14,15,16,17,18,19,20,21,22,23,24,25,26,27,28,29,30,31,32,33,34,35,36,37,38,39,40,41], "paddingInner": 0, "paddingOuter": 0}, "axis": {"title": "alpha", "labelAngle": 0, "labelExpr": "format((datum.value % 6) / 10, '.1f')", "titlePadding": 5}},
        "y": {"field": "lr", "type": "ordinal", "scale": {"domain": ["0.01","0.02","0.03","0.04","0.05","0.06","0.07","0.08","0.09","0.1"], "paddingInner": 0, "paddingOuter": 0}, "axis": {"title": "lr", "titlePadding": 7}},
        "color": {"field": "v", "type": "quantitative", "scale": {"domain": [0,0.25,0.5,0.75,1,1.25,1.5,1.75,2], "range": ["#f7fbff","#deebf7","#c6dbef","#9ecae1","#6baed6","#4292c6","#2171b5","#08519c","#08306b"], "interpolate": "rgb", "clamp": true}, "legend": {"title": null, "orient": "none", "legendX": 938, "legendY": -22, "direction": "vertical", "gradientLength": 265, "gradientThickness": 13, "gradientStrokeColor": "#333", "gradientStrokeWidth": 1, "values": [0,0.2,0.4,0.6,0.8,1,1.2,1.4,1.6,1.8,2], "format": ".1f", "labelOffset": 4}},
        "stroke": {"field": "v", "type": "quantitative", "scale": {"domain": [0,0.25,0.5,0.75,1,1.25,1.5,1.75,2], "range": ["#f7fbff","#deebf7","#c6dbef","#9ecae1","#6baed6","#4292c6","#2171b5","#08519c","#08306b"], "interpolate": "rgb", "clamp": true}, "legend": null}
      }
    },
    {
      "mark": {"type": "rect", "opacity": 0},
      "encoding": {
        "x": {"field": "c", "type": "ordinal", "axis": {"orient": "top", "labels": false, "title": null}},
        "y": {"field": "lr", "type": "ordinal", "axis": {"orient": "right", "labels": false, "title": null}}
      }
    }
  ],
  "resolve": {"axis": {"x": "independent", "y": "independent"}}
}
]
}
